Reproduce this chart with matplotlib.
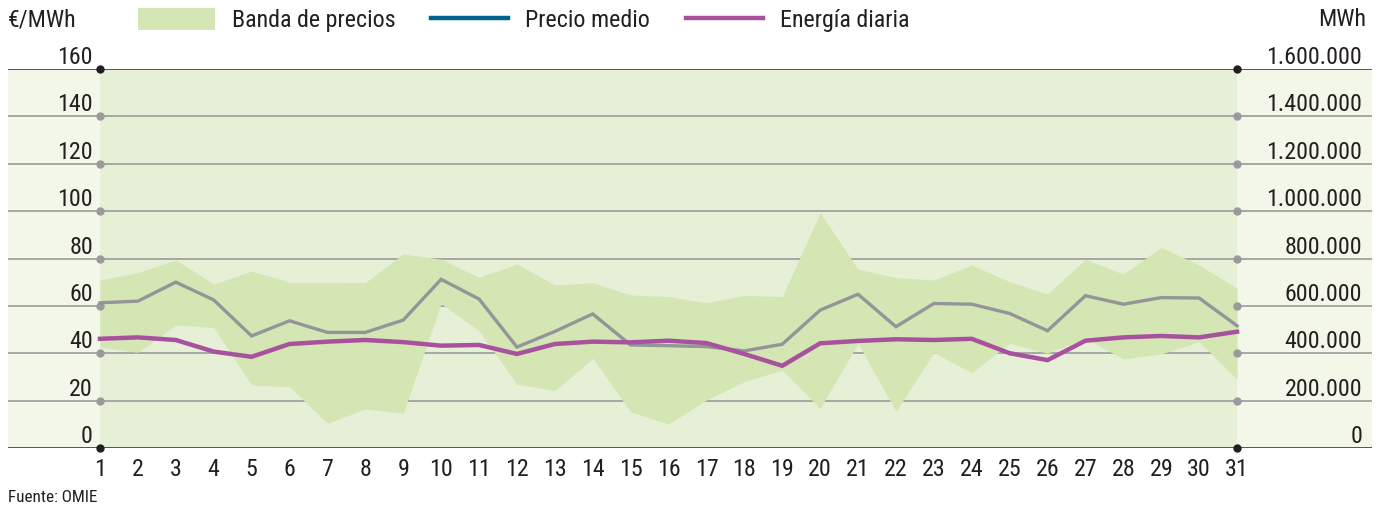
import matplotlib
matplotlib.use("Agg")
import matplotlib.pyplot as plt
import matplotlib.transforms as mtransforms
from matplotlib.patches import Patch
from matplotlib.lines import Line2D

# datos diarios
dias = list(range(1, 32))
precio_medio = [61.3, 62.0, 70.0, 62.5, 47.3, 53.7, 48.8, 48.8, 54.0, 71.2,
                62.9, 42.6, 49.2, 56.6, 43.5, 43.2, 42.8, 41.0, 43.8, 58.2,
                64.9, 51.2, 61.0, 60.7, 56.8, 49.5, 64.3, 60.7, 63.5, 63.3, 51.6]
banda_max = [70.9, 74.0, 79.4, 69.2, 74.7, 70.0, 70.0, 69.8, 81.9, 79.7,
             72.0, 77.7, 68.8, 69.8, 64.6, 63.9, 61.3, 64.4, 63.9, 99.3,
             75.4, 72.0, 70.9, 77.2, 70.2, 65.0, 79.6, 73.4, 84.7, 77.2, 67.4]
banda_min = [42.5, 40.4, 51.9, 50.9, 26.6, 25.9, 10.4, 16.5, 14.6, 61.0,
             49.5, 27.0, 24.2, 37.9, 15.3, 10.1, 20.3, 28.0, 32.9, 16.7,
             44.2, 15.5, 40.2, 31.8, 44.2, 40.0, 46.3, 37.6, 39.7, 44.9, 29.0]
energia = [461000, 467000, 456000, 407000, 385000, 439000, 449000, 456000, 447000, 432000,
           435000, 397000, 439000, 449000, 446000, 453000, 443000, 397000, 347000, 442000,
           452000, 459000, 456000, 461000, 400000, 371000, 453000, 467000, 473000, 467000, 491000]
ticks_izq = [0, 20, 40, 60, 80, 100, 120, 140, 160]
ticks_der = ["0", "200.000", "400.000", "600.000", "800.000",
             "1.000.000", "1.200.000", "1.400.000", "1.600.000"]

plt.rcParams["font.family"] = ["Roboto Condensed", "Liberation Sans Narrow", "DejaVu Sans"]
plt.rcParams["font.stretch"] = "condensed"
TXT = "#231f20"
FS = 17.3

fig = plt.figure(figsize=(13.81, 5.08), dpi=100)
ax = fig.add_axes([8 / 1381, 1 - 448 / 508, 1364 / 1381, 379 / 508])
ax.set_facecolor("#f3f7ea")
ax.set_xlim(-1.427, 34.56)
ax.set_ylim(0, 160)
for s in ax.spines.values():
    s.set_visible(False)

# fondo de la zona de datos
ax.axvspan(1, 31, color="#e5f0d6", lw=0, zorder=0)

# líneas de rejilla + puntos
for v in ticks_izq:
    extremo = v in (0, 160)
    ax.axhline(v, color="#3a3a3a" if extremo else "#9b9b9b", lw=1.2, zorder=1)
    ax.plot([1, 31], [v, v], "o", ms=5, color="#231f20" if extremo else "#9a9a9e",
            zorder=2, clip_on=False)

ax.fill_between(dias, banda_min, banda_max, color="#d4e6b3", lw=0, zorder=1.5)
ax.plot(dias, precio_medio, color="#939598", lw=2.4, zorder=3, solid_joinstyle="miter")

ax2 = ax.twinx()
ax2.set_ylim(0, 1600000)
for s in ax2.spines.values():
    s.set_visible(False)
ax2.set_yticks([])
ax2.plot(dias, energia, color="#a8529f", lw=3.2, zorder=4, solid_joinstyle="miter")

# etiquetas de ejes
ax.set_yticks([])
ax.set_xticks(dias)
ax.set_xticklabels([str(d) for d in dias], fontsize=FS, color=TXT)
ax.tick_params(axis="x", length=0, pad=7)

tr_y = mtransforms.offset_copy(
    mtransforms.blended_transform_factory(mtransforms.IdentityTransform(), ax.transData),
    fig=fig, y=5, units="dots")
for v, lab in zip(ticks_izq, ticks_der):
    ax.text(93, v, str(v), transform=tr_y, ha="right", va="baseline", fontsize=FS, color=TXT)
    ax.text(1362, v, lab, transform=tr_y, ha="right", va="baseline", fontsize=FS, color=TXT)

# cabecera
fig.text(8 / 1381, 1 - 20 / 508, "€/MWh", ha="left", va="center", fontsize=FS, color=TXT)
fig.text(1366 / 1381, 1 - 20 / 508, "MWh", ha="right", va="center", fontsize=FS, color=TXT)
handles = [Patch(facecolor="#d4e6b3", edgecolor="none"),
           Line2D([], [], color="#00648c", lw=3.2),
           Line2D([], [], color="#a8529f", lw=3.2)]
fig.legend(handles, ["Banda de precios", "Precio medio", "Energía diaria"],
           loc="center left", bbox_to_anchor=(138 / 1381, 1 - 20 / 508), ncol=3,
           frameon=False, fontsize=FS, borderpad=0, borderaxespad=0,
           handlelength=3.2, handleheight=1.0, handletextpad=0.7, columnspacing=1.5,
           labelcolor=TXT)

fig.text(8 / 1381, 1 - 497 / 508, "Fuente: OMIE", ha="left", va="center", fontsize=12.3, color=TXT)

fig.savefig("out.png", dpi=100)
